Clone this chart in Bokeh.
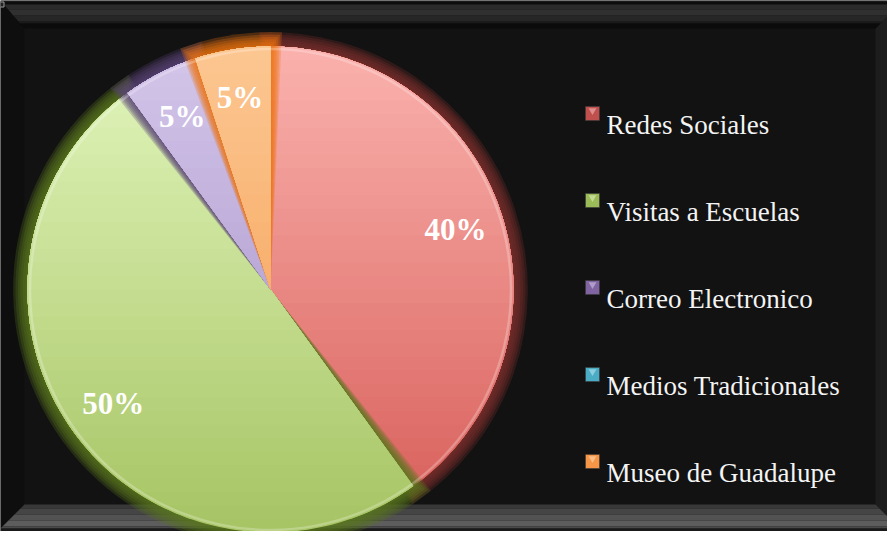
import numpy as np
from bokeh.plotting import figure
from bokeh.models import Range1d
from bokeh.core.properties import value
from bokeh.embed import file_html
from bokeh.resources import INLINE

# ---------------- data ----------------
categories = ["Redes Sociales", "Visitas a Escuelas", "Correo Electronico",
              "Medios Tradicionales", "Museo de Guadalupe"]
percent = [40, 50, 5, 0, 5]
top_colors = ["#FBB2AE", "#E2F6BE", "#D4C6EA", "#B0E2EE", "#FCC792"]
bottom_colors = ["#D65C57", "#A6C463", "#9F89C2", "#4BACC6", "#F39848"]
glow_colors = ["#7E302E", "#58761E", "#574278", "#2E7F96", "#EC7210"]
legend_colors = ["#C0504D", "#9BBB59", "#8064A2", "#4BACC6", "#F79646"]
legend_light = ["#EBA8A6", "#D4E8AC", "#C4B3DA", "#A8DDEA", "#FCCFA3"]

# ---------------- figure ----------------
W, H = 887, 531
p = figure(width=W, height=H, x_range=Range1d(0, W), y_range=Range1d(0, H),
           output_backend="svg", toolbar_location=None,
           x_axis_type=None, y_axis_type=None, min_border=0,
           outline_line_color=None, background_fill_color="#121212",
           border_fill_color="#121212")


def fx(x):
    return x - 8


def fy(y):
    return 539 - y


# ---------------- bevelled frame ----------------
xs, ys, cols = [], [], []
xs.append([fx(v) for v in (8, 32, 32, 8)])
ys.append([fy(v) for v in (8, 36, 512, 536)])
cols.append("#0e0e0e")
xs.append([fx(v) for v in (895, 883, 883, 895)])
ys.append([fy(v) for v in (24, 36, 512, 524)])
cols.append("#1d1d1d")


def top_lx(y):
    return 8 + (y - 8) * 24.0 / 28.0


def top_rx(y):
    return 895 if y <= 24 else 895 - (y - 24)


for ya, yb, c in [(8, 9, "#3a3a3a"), (9, 12, "#0d0d0d"), (12, 17, "#2b2b2b"),
                  (17, 23, "#303030"), (23, 29, "#262626"), (29, 31, "#1a1a1a"),
                  (31, 36, "#0b0b0b")]:
    yy = [ya] + ([24] if ya < 24 < yb else []) + [yb]
    px = [top_lx(y) for y in yy] + [top_rx(y) for y in reversed(yy)]
    py = yy + list(reversed(yy))
    xs.append([fx(v) for v in px])
    ys.append([fy(v) for v in py])
    cols.append(c)


def bot_lx(y):
    return max(8, 32 - (y - 512))


def bot_rx(y):
    return min(895, 883 + (y - 512))


for ya, yb, c in [(512, 516, "#383838"), (516, 522, "#454545"), (522, 528, "#525252"),
                  (528, 534, "#5d5d5d"), (534, 536, "#4a4a4a"), (536, 539, "#1a1a1a")]:
    yy = [ya] + ([524] if ya < 524 < yb else []) + [yb]
    px = [bot_lx(y) for y in yy] + [bot_rx(y) for y in reversed(yy)]
    py = yy + list(reversed(yy))
    xs.append([fx(v) for v in px])
    ys.append([fy(v) for v in py])
    cols.append(c)

p.patches(xs=xs, ys=ys, fill_color=cols, line_color=None)

# Excel selection handle (top-left corner)
p.rect(x=[fx(9.5)], y=[fy(12)], width=4, height=5, fill_color="#222222",
       line_color="#9a9a9a", line_width=1)

# ---------------- pie ----------------
cx, cy, R = fx(278), fy(297), 243.0
vals = np.array(percent, dtype=float)
frac = vals / vals.sum()
cum_after = np.cumsum(frac)
cum_before = cum_after - frac
starts = np.pi / 2 - 2 * np.pi * cum_before
ends = np.pi / 2 - 2 * np.pi * cum_after


def hex2rgb(h):
    return np.array([int(h[i:i + 2], 16) for i in (1, 3, 5)], dtype=float)


def rgb2hex(c):
    c = np.clip(np.round(c), 0, 255).astype(int)
    return "#%02x%02x%02x" % tuple(c)


def clip_above(poly, y0):
    out = []
    n = len(poly)
    for j in range(n):
        a = poly[j]
        b = poly[(j + 1) % n]
        ina = a[1] >= y0
        inb = b[1] >= y0
        if ina:
            out.append(a)
        if ina != inb:
            t = (y0 - a[1]) / (b[1] - a[1])
            out.append((a[0] + t * (b[0] - a[0]), y0))
    return out


NB = 36
for i in range(len(categories)):
    if percent[i] <= 0:
        continue
    # soft outer glow
    for k in (6, 5, 4, 3, 2, 1):
        d = 1.8 * k / R
        p.wedge(x=cx, y=cy, radius=R + 2.4 * k,
                start_angle=starts[i] + d, end_angle=ends[i] - d,
                direction="clock", fill_color=glow_colors[i], fill_alpha=0.27,
                line_color=None)
    # slice with vertical gradient: stacked clipped polygons
    th = np.linspace(starts[i], ends[i], 120)
    poly = [(cx, cy)] + [(cx + R * np.cos(t), cy + R * np.sin(t)) for t in th]
    c0, c1 = hex2rgb(bottom_colors[i]), hex2rgb(top_colors[i])
    gx, gy, gc = [], [], []
    for k in range(NB):
        yk = (cy - R) + k * (2 * R / NB)
        part = poly if k == 0 else clip_above(poly, yk)
        if len(part) < 3:
            continue
        t = (k + 0.5) / NB
        gx.append([q[0] for q in part])
        gy.append([q[1] for q in part])
        gc.append(rgb2hex(c0 + (c1 - c0) * t))
    p.patches(xs=gx, ys=gy, fill_color=gc, line_color=None)

# rim highlight
p.arc(x=cx, y=cy, radius=R - 2.5, start_angle=0, end_angle=2 * np.pi,
      line_color="white", line_alpha=0.25, line_width=2.5)

# percentage labels
mids = (starts + ends) / 2
lab_x, lab_y, lab_t = [], [], []
for i in range(len(categories)):
    if percent[i] <= 0:
        continue
    lab_x.append(cx + 0.8 * R * np.cos(mids[i]))
    lab_y.append(cy + 0.8 * R * np.sin(mids[i]))
    lab_t.append(f"{percent[i]}%")
p.text(x=lab_x, y=lab_y, text=lab_t, text_font=value("Liberation Serif"),
       text_font_style="bold", text_font_size="31px", text_color="white",
       text_align="center", text_baseline="middle")

# ---------------- legend ----------------
idx = np.arange(len(categories))
sq_x = [fx(600)] * len(categories)
sq_y = [fy(121) - 87 * k for k in idx]
p.scatter(x=sq_x, y=sq_y, marker="square", size=14, fill_color=legend_colors,
          line_color="#3a3a3a", line_width=0.6)
p.scatter(x=sq_x, y=[v + 3 for v in sq_y], marker="inverted_triangle", size=8,
          fill_color=legend_light, fill_alpha=0.7, line_color=None)
p.text(x=[fx(614)] * len(categories), y=[fy(132) - 87 * k for k in idx],
       text=categories, text_font=value("Liberation Serif"),
       text_font_size="27px", text_color="#F4F4F4",
       text_align="left", text_baseline="alphabetic")

open("out.html", "w").write(file_html(p, INLINE))
